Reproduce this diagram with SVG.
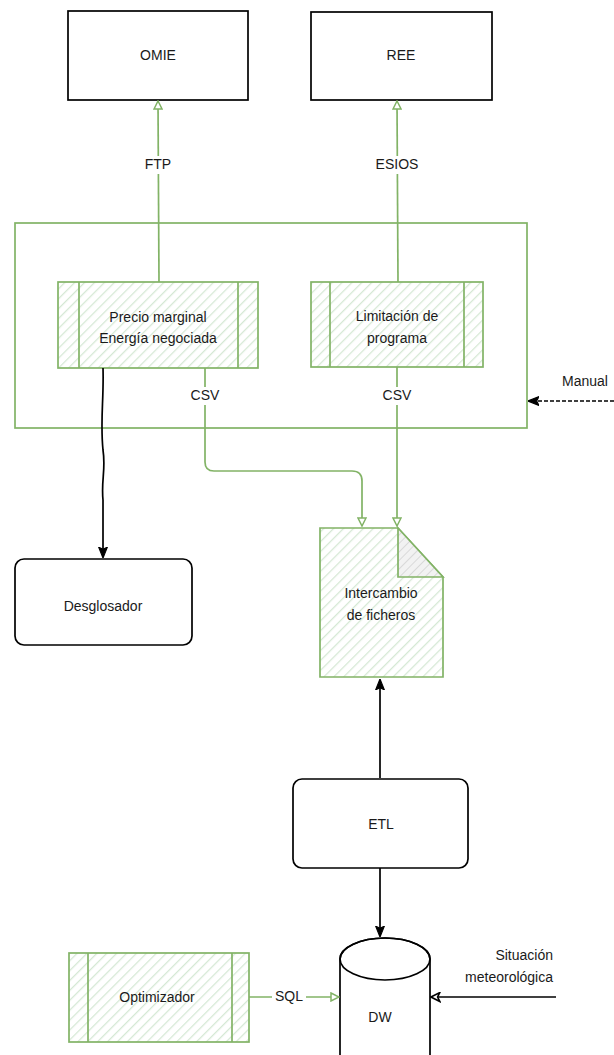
<svg xmlns="http://www.w3.org/2000/svg" width="614" height="1055" viewBox="0 0 614 1055">
<defs>
<pattern id="hatch" width="7" height="7" patternUnits="userSpaceOnUse" patternTransform="rotate(45)">
<rect width="7" height="7" fill="#ffffff"/>
<line x1="0" y1="0" x2="0" y2="7" stroke="#d5e8d4" stroke-width="2.5"/>
</pattern>
<pattern id="hatchGray" width="6" height="6" patternUnits="userSpaceOnUse" patternTransform="rotate(45)">
<rect width="6" height="6" fill="#f2f2f2"/>
<line x1="0" y1="0" x2="0" y2="6" stroke="#d9d9d9" stroke-width="2"/>
</pattern>
<marker id="openG" viewBox="0 0 10 10" refX="9" refY="5" markerWidth="10" markerHeight="10" markerUnits="userSpaceOnUse" orient="auto">
<path d="M1,1 L9,5 L1,9 Z" fill="#ffffff" stroke="#82b366" stroke-width="1.5"/>
</marker>
<marker id="fillB" viewBox="0 0 10 10" refX="9" refY="5" markerWidth="11" markerHeight="11" markerUnits="userSpaceOnUse" orient="auto">
<path d="M0,1 L10,5 L0,9 L2,5 Z" fill="#000000" stroke="#000000" stroke-width="1"/>
</marker>
<marker id="openB" viewBox="0 0 10 10" refX="9" refY="5" markerWidth="11" markerHeight="11" markerUnits="userSpaceOnUse" orient="auto">
<path d="M1,1 L9,5 L1,9 L3,5 Z" fill="#ffffff" stroke="#000000" stroke-width="1.5"/>
</marker>
</defs>
<style>
text { font-family: "Liberation Sans", Arial, sans-serif; font-size: 14px; fill: #1a1a1a; text-anchor: middle; dominant-baseline: middle; }
.blk { fill: #ffffff; stroke: #000000; stroke-width: 1.7; }
.grn { fill: url(#hatch); stroke: #82b366; stroke-width: 1.7; }
.gline { fill: none; stroke: #82b366; stroke-width: 1.7; }
.bline { fill: none; stroke: #000000; stroke-width: 1.7; }
.lbl { fill: #ffffff; }
</style>
<rect width="614" height="1055" fill="#ffffff"/>

<g id="container">
<rect x="15" y="223" width="512" height="205" fill="none" stroke="#82b366" stroke-width="1.7"/>
</g>

<g id="omie">
<rect class="blk" x="68" y="11" width="180" height="89"/>
<text x="158" y="56">OMIE</text>
</g>
<g id="ree">
<rect class="blk" x="311" y="12" width="181" height="88"/>
<text x="401" y="56">REE</text>
</g>

<g id="precio">
<rect class="grn" x="58" y="282" width="200" height="86"/>
<line class="gline" x1="79" y1="282" x2="79" y2="368"/>
<line class="gline" x1="238" y1="282" x2="238" y2="368"/>
<text x="158" y="318">Precio marginal</text>
<text x="158" y="339">Energía negociada</text>
</g>
<g id="limitacion">
<rect class="grn" x="311" y="282" width="172" height="85"/>
<line class="gline" x1="330" y1="282" x2="330" y2="367"/>
<line class="gline" x1="464" y1="282" x2="464" y2="367"/>
<text x="397" y="317">Limitación de</text>
<text x="397" y="339">programa</text>
</g>

<g id="desglosador">
<rect class="blk" x="15" y="559" width="177" height="86" rx="9"/>
<text x="103" y="607">Desglosador</text>
</g>

<g id="intercambio">
<path class="grn" d="M320,528 L398,528 L443,577 L443,677 L320,677 Z"/>
<path d="M398,528 L443,577 L398,577 Z" fill="url(#hatchGray)" stroke="#82b366" stroke-width="1.7"/>
<text x="381" y="594">Intercambio</text>
<text x="381" y="616">de ficheros</text>
</g>

<g id="etl">
<rect class="blk" x="293" y="779" width="175" height="89" rx="9"/>
<text x="381" y="825">ETL</text>
</g>

<g id="dw">
<path class="blk" d="M340,959 A45,21 0 0 1 430,959 L430,1060 L340,1060 Z"/>
<ellipse cx="385" cy="959" rx="45" ry="21" fill="none" stroke="#000000" stroke-width="1.7"/>
<text x="380" y="1018">DW</text>
</g>

<g id="optimizador">
<rect class="grn" x="69" y="953" width="180" height="89"/>
<line class="gline" x1="88" y1="953" x2="88" y2="1042"/>
<line class="gline" x1="232" y1="953" x2="232" y2="1042"/>
<text x="157" y="998">Optimizador</text>
</g>

<g id="connectors">
<line class="gline" x1="159" y1="282" x2="158" y2="101" marker-end="url(#openG)"/>
<rect class="lbl" x="140" y="156" width="36" height="18"/>
<text x="158" y="165">FTP</text>
<line class="gline" x1="398" y1="282" x2="397" y2="101" marker-end="url(#openG)"/>
<rect class="lbl" x="366" y="156" width="62" height="18"/>
<text x="397" y="165">ESIOS</text>

<path class="bline" d="M103,368 C104,400 100,420 103,450 C106,470 101,480 103,500 L103,557" marker-end="url(#fillB)"/>

<path class="gline" d="M205,368 L205,462 Q205,471 214,471 L352,471 Q362,471 362,481 L362,526" marker-end="url(#openG)"/>
<rect class="lbl" x="186" y="387" width="38" height="18"/>
<text x="205" y="396">CSV</text>

<line class="gline" x1="397" y1="367" x2="397" y2="526" marker-end="url(#openG)"/>
<rect class="lbl" x="378" y="387" width="38" height="18"/>
<text x="397" y="396">CSV</text>

<line x1="614" y1="401" x2="529" y2="401" stroke="#000000" stroke-width="1.7" stroke-dasharray="4,2" marker-end="url(#fillB)"/>
<text x="585" y="382">Manual</text>

<line class="bline" x1="380" y1="778" x2="380" y2="680" marker-end="url(#fillB)"/>
<line class="bline" x1="380" y1="868" x2="380" y2="936" marker-end="url(#fillB)"/>

<line class="gline" x1="249" y1="997" x2="339" y2="997" marker-end="url(#openG)"/>
<rect class="lbl" x="272" y="988" width="34" height="18"/>
<text x="289" y="997">SQL</text>

<line class="bline" x1="556" y1="997" x2="431" y2="997" marker-end="url(#openB)"/>
<text x="553" y="956" style="text-anchor:end">Situación</text>
<text x="553" y="978" style="text-anchor:end">meteorológica</text>
</g>
</svg>
